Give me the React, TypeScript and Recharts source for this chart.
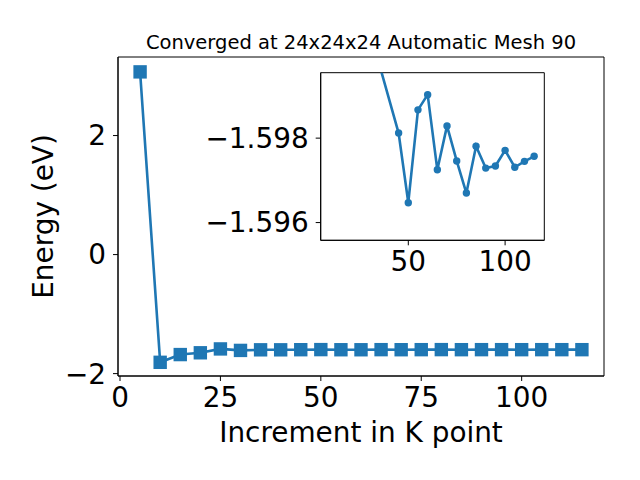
import React from "react";
import { LineChart, Line, XAxis, YAxis, ReferenceArea } from "recharts";

// main convergence series
const kPoints = [5, 10, 15, 20, 25, 30, 35, 40, 45, 50, 55, 60, 65, 70, 75, 80, 85, 90, 95, 100, 105, 110, 115];
const energies = [
  3.07, -1.81, -1.68, -1.65, -1.585, -1.61, -1.6, -1.6, -1.5981, -1.5965, -1.5987, -1.599,
  -1.5973, -1.5983, -1.5975, -1.5967, -1.5978, -1.5973, -1.5973, -1.5977, -1.5973, -1.5975, -1.5976,
];
const xTicks = [0, 25, 50, 75, 100];
const yTicks = [-2, 0, 2];

// zoomed inset
const insetK = [35, 45, 50, 55, 60, 65, 70, 75, 80, 85, 90, 95, 100, 105, 110, 115];
const insetE = [
  -1.59975, -1.59812, -1.59647, -1.59867, -1.59903, -1.59725, -1.59829, -1.59746, -1.5967, -1.59781,
  -1.59729, -1.59734, -1.59771, -1.59731, -1.59745, -1.59757,
];
const insetXTicks = [50, 100];
const insetYTicks = [-1.598, -1.596];

const TITLE = "Converged at 24x24x24 Automatic Mesh 90";
const X_LABEL = "Increment in K point";
const Y_LABEL = "Energy (eV)";

const BLUE = "#1f77b4";
const FONT = "DejaVu Sans";
const BIG = 27.9;
const X_DOMAIN: [number, number] = [-0.5, 120.5];
const Y_DOMAIN: [number, number] = [-2.04, 3.32];
const INSET_X_DOMAIN: [number, number] = [4.75, 120.25];
const INSET_Y_DOMAIN: [number, number] = [-1.59955, -1.59558];

const mainData = kPoints.map((k, i) => ({ k, e: energies[i] }));
const insetData = insetK.map((k, i) => ({ k, e: insetE[i] }));

const minus = (s: string) => s.replace("-", "\u2212");
const tickStyle = { fill: "#000", fontSize: BIG, fontFamily: FONT };

const Square = (props: any) => {
  const { cx, cy, index } = props;
  if (cx == null || cy == null) return <g key={`sq-${index}`} />;
  return <rect key={`sq-${index}`} x={cx - 6.7} y={cy - 6.7} width={13.4} height={13.4} fill={BLUE} />;
};

export default function App() {
  return (
    <div style={{ position: "absolute", left: 0, top: 0, width: 640, height: 480, background: "#fff" }}>
      <div style={{ position: "absolute", left: 0, top: 0 }}>
        <LineChart width={640} height={480} data={mainData} margin={{ top: 57, right: 36, bottom: 74, left: 58 }}>
          <ReferenceArea
            x1={X_DOMAIN[0]}
            x2={X_DOMAIN[1]}
            y1={Y_DOMAIN[0]}
            y2={Y_DOMAIN[1]}
            fill="none"
            stroke="#000"
            strokeWidth={1}
          />
          <XAxis
            dataKey="k"
            type="number"
            domain={X_DOMAIN}
            allowDataOverflow
            ticks={xTicks}
            height={30}
            tickSize={5}
            tickMargin={6}
            stroke="#000"
            tick={tickStyle}
            label={{
              content: () => (
                <text x={361} y={442} textAnchor="middle" fontSize={BIG} fontFamily={FONT} fill="#000">
                  {X_LABEL}
                </text>
              ),
            }}
          />
          <YAxis
            type="number"
            domain={Y_DOMAIN}
            allowDataOverflow
            ticks={yTicks}
            width={60}
            tickSize={5}
            tickMargin={7}
            stroke="#000"
            tick={tickStyle}
            tickFormatter={(v: number) => minus(String(v))}
            label={{
              content: () => (
                <text
                  x={53}
                  y={216.5}
                  transform="rotate(-90 53 216.5)"
                  textAnchor="middle"
                  fontSize={BIG}
                  fontFamily={FONT}
                  fill="#000"
                >
                  {Y_LABEL}
                </text>
              ),
            }}
          />
          <Line
            dataKey="e"
            stroke={BLUE}
            strokeWidth={2.6}
            dot={(p: any) => <Square {...p} key={`sq-${p.index}`} />}
            isAnimationActive={false}
          />
          <text x={361} y={49} textAnchor="middle" fontSize={19.5} fontFamily={FONT} fill="#000">
            {TITLE}
          </text>
        </LineChart>
      </div>
      <div style={{ position: "absolute", left: 0, top: 0 }}>
        <LineChart
          width={640}
          height={480}
          data={insetData}
          margin={{ top: 72.7, right: 95.7, bottom: 199.7, left: 210.7 }}
        >
          <ReferenceArea
            x1={INSET_X_DOMAIN[0]}
            x2={INSET_X_DOMAIN[1]}
            y1={INSET_Y_DOMAIN[0]}
            y2={INSET_Y_DOMAIN[1]}
            fill="#fff"
            fillOpacity={1}
            stroke="#000"
            strokeWidth={1}
          />
          <XAxis
            dataKey="k"
            type="number"
            domain={INSET_X_DOMAIN}
            allowDataOverflow
            ticks={insetXTicks}
            height={40}
            tickSize={5}
            tickMargin={6}
            stroke="#000"
            tick={tickStyle}
          />
          <YAxis
            type="number"
            domain={INSET_Y_DOMAIN}
            allowDataOverflow
            reversed
            ticks={insetYTicks}
            width={110}
            tickSize={5}
            tickMargin={7}
            stroke="#000"
            tick={tickStyle}
            tickFormatter={(v: number) => minus(v.toFixed(3))}
          />
          <Line
            dataKey="e"
            stroke={BLUE}
            strokeWidth={2.6}
            dot={{ r: 3.7, fill: BLUE, stroke: BLUE, strokeWidth: 0 }}
            isAnimationActive={false}
          />
        </LineChart>
      </div>
    </div>
  );
}
